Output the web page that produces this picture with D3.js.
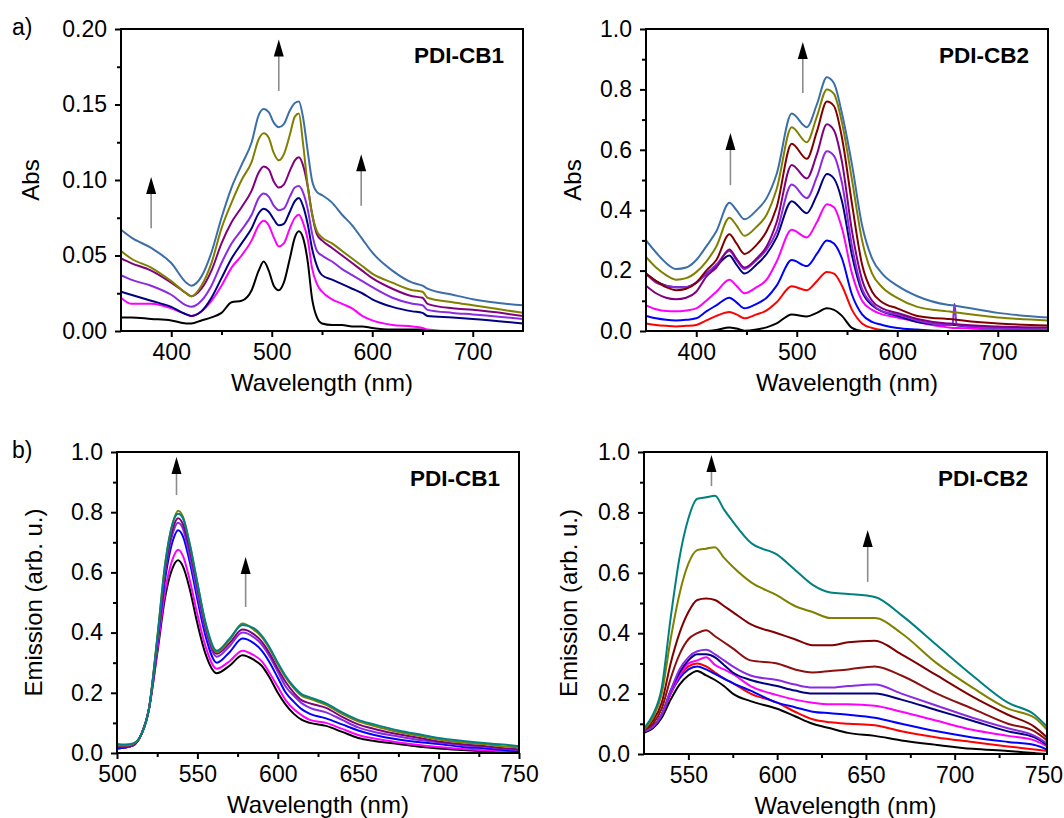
<!DOCTYPE html>
<html><head><meta charset="utf-8">
<script src="https://cdn.jsdelivr.net/npm/d3@7"></script>
<style>html,body{margin:0;padding:0;background:#fff;}svg{display:block;}</style>
</head><body>
<script>
// ---------- DATA ----------
// Panel a) left: absorption PDI-CB1
const absCB1Wavelength = [350,360,380,400,415,420,430,440,450,460,470,480,487,492,497,502,507,512,518,523,527,531,536,540,545,550,560,570,580,590,600,620,640,650,655,680,700,750];
const absCB1Black   = [0.009,0.009,0.008,0.007,0.005,0.005,0.007,0.009,0.012,0.019,0.020,0.027,0.040,0.046,0.040,0.030,0.027,0.032,0.048,0.062,0.066,0.062,0.045,0.022,0.009,0.005,0.004,0.004,0.003,0.003,0.002,0.001,0.001,0.001,0,0,0,0];
const absCB1Magenta = [0.022,0.018,0.018,0.015,0.011,0.010,0.013,0.020,0.030,0.042,0.050,0.060,0.070,0.073,0.070,0.062,0.056,0.058,0.068,0.075,0.077,0.072,0.060,0.042,0.031,0.026,0.021,0.018,0.015,0.010,0.007,0.004,0.003,0.002,0.001,0,0,0];
const absCB1Navy    = [0.026,0.024,0.020,0.016,0.011,0.010,0.013,0.022,0.035,0.048,0.058,0.068,0.078,0.081,0.079,0.074,0.070,0.071,0.079,0.086,0.088,0.083,0.070,0.055,0.043,0.037,0.034,0.031,0.028,0.025,0.021,0.016,0.013,0.012,0.010,0.009,0.008,0.005];
const absCB1Violet  = [0.037,0.034,0.030,0.024,0.017,0.016,0.020,0.030,0.045,0.058,0.067,0.077,0.088,0.091,0.089,0.083,0.080,0.081,0.089,0.095,0.096,0.092,0.080,0.065,0.053,0.050,0.046,0.041,0.037,0.033,0.029,0.022,0.018,0.017,0.014,0.012,0.011,0.008];
const absCB1Purple  = [0.048,0.045,0.040,0.032,0.025,0.023,0.028,0.040,0.058,0.072,0.082,0.093,0.105,0.109,0.107,0.099,0.095,0.097,0.106,0.113,0.115,0.110,0.095,0.078,0.064,0.060,0.055,0.050,0.045,0.040,0.035,0.028,0.023,0.022,0.018,0.015,0.014,0.010];
const absCB1Olive   = [0.053,0.048,0.042,0.033,0.025,0.023,0.030,0.045,0.068,0.085,0.100,0.112,0.127,0.131,0.128,0.118,0.113,0.117,0.130,0.142,0.144,0.125,0.095,0.078,0.066,0.062,0.058,0.053,0.048,0.043,0.038,0.032,0.027,0.026,0.022,0.019,0.017,0.012];
const absCB1Steel   = [0.067,0.062,0.055,0.045,0.032,0.030,0.036,0.052,0.075,0.095,0.110,0.125,0.143,0.147,0.145,0.138,0.135,0.137,0.146,0.151,0.152,0.142,0.118,0.100,0.092,0.090,0.085,0.077,0.070,0.061,0.052,0.040,0.032,0.030,0.028,0.024,0.021,0.017];
const absCB1Arrows = [{wl:380,from:0.068,to:0.102},{wl:507,from:0.159,to:0.193},{wl:589,from:0.083,to:0.117}];

// Panel a) right: absorption PDI-CB2
const absCB2Wavelength = [350,360,370,380,390,400,410,420,433,440,448,460,470,480,495,510,520,530,537,545,555,565,575,585,600,620,650,655,657,659,700,750];
const absCB2Black   = [0,0,0,0,0,0,0,0.003,0.012,0.008,0.001,0.005,0.012,0.025,0.055,0.048,0.06,0.075,0.07,0.05,0.01,0,0,0,0,0,0,0,0,0,0,0];
const absCB2Red     = [0.025,0.02,0.017,0.015,0.017,0.02,0.035,0.05,0.063,0.055,0.042,0.055,0.068,0.095,0.148,0.135,0.165,0.195,0.19,0.15,0.07,0.025,0.01,0.003,0,0,0,0,0,0,0,0];
const absCB2Blue    = [0.05,0.042,0.037,0.035,0.037,0.042,0.065,0.085,0.11,0.095,0.075,0.09,0.11,0.15,0.235,0.215,0.255,0.30,0.29,0.24,0.12,0.055,0.03,0.02,0.01,0.005,0,0,0,0,0,0];
const absCB2Magenta = [0.085,0.072,0.066,0.065,0.068,0.075,0.10,0.13,0.17,0.15,0.125,0.145,0.17,0.23,0.335,0.31,0.36,0.42,0.41,0.34,0.19,0.10,0.07,0.055,0.045,0.03,0.012,0.01,0.01,0.01,0.003,0];
const absCB2Navy    = [0.19,0.165,0.15,0.145,0.145,0.16,0.19,0.215,0.25,0.22,0.19,0.22,0.255,0.31,0.43,0.39,0.45,0.52,0.505,0.43,0.25,0.13,0.085,0.065,0.05,0.03,0.02,0.02,0.02,0.019,0.01,0.005];
const absCB2Violet  = [0.19,0.16,0.15,0.145,0.145,0.16,0.19,0.22,0.265,0.235,0.205,0.235,0.27,0.33,0.485,0.44,0.51,0.595,0.58,0.49,0.28,0.14,0.09,0.065,0.055,0.035,0.02,0.02,0.09,0.02,0.01,0.005];
const absCB2Purple  = [0.15,0.125,0.11,0.105,0.11,0.13,0.18,0.21,0.27,0.24,0.21,0.24,0.28,0.36,0.55,0.505,0.585,0.685,0.665,0.56,0.33,0.17,0.10,0.075,0.06,0.04,0.025,0.024,0.023,0.022,0.015,0.012];
const absCB2Maroon  = [0.19,0.165,0.145,0.135,0.14,0.16,0.20,0.235,0.32,0.29,0.255,0.285,0.33,0.41,0.62,0.57,0.66,0.76,0.745,0.64,0.42,0.22,0.13,0.095,0.075,0.05,0.04,0.039,0.038,0.037,0.025,0.018];
const absCB2Olive   = [0.245,0.21,0.185,0.17,0.175,0.195,0.23,0.28,0.375,0.35,0.315,0.345,0.385,0.47,0.675,0.625,0.71,0.80,0.785,0.69,0.50,0.30,0.19,0.145,0.11,0.08,0.065,0.063,0.062,0.061,0.045,0.035];
const absCB2Steel   = [0.30,0.26,0.225,0.205,0.21,0.235,0.28,0.33,0.425,0.40,0.37,0.40,0.44,0.52,0.72,0.675,0.75,0.84,0.82,0.72,0.55,0.35,0.24,0.19,0.15,0.115,0.087,0.085,0.084,0.083,0.06,0.045];
const absCB2Arrows = [{wl:434,from:0.483,to:0.656},{wl:506,from:0.788,to:0.957}];

// Panel b) left: emission PDI-CB1
const emCB1Wavelength = [500,505,510,515,520,525,530,535,538,541,545,550,555,562,570,578,585,590,595,600,605,610,615,620,630,640,650,660,675,690,700,715,730,740,750];
const emCB1Black   = [0.015,0.018,0.025,0.06,0.15,0.33,0.52,0.62,0.64,0.62,0.55,0.43,0.33,0.265,0.29,0.325,0.31,0.29,0.25,0.20,0.16,0.13,0.11,0.10,0.09,0.07,0.05,0.04,0.03,0.02,0.015,0.01,0.006,0.003,0.0];
const emCB1Magenta = [0.015,0.018,0.025,0.06,0.15,0.34,0.54,0.65,0.675,0.655,0.58,0.46,0.355,0.28,0.305,0.34,0.325,0.305,0.265,0.22,0.175,0.145,0.125,0.11,0.10,0.08,0.06,0.048,0.035,0.025,0.02,0.013,0.009,0.005,0.003];
const emCB1Blue    = [0.015,0.018,0.025,0.06,0.15,0.36,0.58,0.71,0.74,0.72,0.64,0.51,0.39,0.30,0.335,0.38,0.365,0.34,0.30,0.25,0.20,0.17,0.145,0.13,0.115,0.095,0.075,0.06,0.045,0.035,0.03,0.02,0.015,0.01,0.005];
const emCB1Violet  = [0.02,0.02,0.027,0.06,0.15,0.37,0.60,0.735,0.765,0.745,0.66,0.53,0.41,0.32,0.355,0.40,0.385,0.36,0.32,0.27,0.22,0.19,0.165,0.15,0.135,0.11,0.085,0.07,0.055,0.042,0.035,0.026,0.02,0.014,0.01];
const emCB1Purple  = [0.02,0.02,0.027,0.06,0.15,0.37,0.61,0.75,0.78,0.76,0.68,0.55,0.42,0.33,0.365,0.41,0.395,0.37,0.33,0.28,0.235,0.20,0.175,0.165,0.15,0.12,0.095,0.08,0.062,0.048,0.038,0.029,0.022,0.016,0.012];
const emCB1Olive   = [0.025,0.025,0.03,0.06,0.15,0.38,0.63,0.77,0.805,0.785,0.70,0.565,0.43,0.335,0.375,0.43,0.41,0.385,0.345,0.295,0.25,0.215,0.19,0.18,0.16,0.13,0.105,0.09,0.07,0.055,0.045,0.035,0.028,0.022,0.018];
const emCB1Teal    = [0.03,0.028,0.032,0.06,0.15,0.38,0.63,0.77,0.795,0.78,0.70,0.565,0.435,0.34,0.38,0.425,0.415,0.39,0.35,0.30,0.255,0.22,0.195,0.185,0.165,0.135,0.11,0.095,0.075,0.06,0.05,0.04,0.032,0.028,0.022];
const emCB1Arrows = [{wl:537,from:0.857,to:0.983},{wl:580,from:0.485,to:0.651}];

// Panel b) right: emission PDI-CB2
const emCB2Wavelength = [525,530,535,540,545,550,555,560,565,570,575,585,600,610,620,630,640,655,670,690,710,730,745,752];
const emCB2Black   = [0.07,0.085,0.12,0.18,0.23,0.26,0.275,0.26,0.245,0.225,0.20,0.175,0.15,0.125,0.10,0.085,0.07,0.06,0.045,0.03,0.017,0.01,0.003,0];
const emCB2Red     = [0.075,0.09,0.13,0.20,0.26,0.29,0.30,0.29,0.27,0.25,0.235,0.20,0.17,0.14,0.115,0.105,0.10,0.095,0.075,0.055,0.04,0.025,0.015,0.01];
const emCB2Blue    = [0.075,0.09,0.13,0.20,0.25,0.28,0.29,0.28,0.265,0.25,0.235,0.21,0.17,0.155,0.14,0.135,0.13,0.12,0.10,0.075,0.055,0.04,0.03,0.015];
const emCB2Magenta = [0.075,0.09,0.13,0.20,0.26,0.30,0.31,0.32,0.295,0.28,0.265,0.225,0.195,0.18,0.17,0.165,0.165,0.16,0.14,0.11,0.08,0.06,0.045,0.025];
const emCB2Navy    = [0.075,0.09,0.13,0.21,0.27,0.31,0.33,0.33,0.32,0.295,0.27,0.245,0.225,0.21,0.20,0.20,0.20,0.20,0.18,0.145,0.11,0.075,0.055,0.03];
const emCB2Violet  = [0.075,0.09,0.13,0.21,0.28,0.32,0.34,0.345,0.33,0.31,0.29,0.26,0.245,0.23,0.22,0.22,0.225,0.23,0.20,0.16,0.12,0.085,0.06,0.035];
const emCB2Maroon1 = [0.08,0.10,0.15,0.25,0.33,0.38,0.40,0.41,0.39,0.37,0.35,0.31,0.30,0.28,0.27,0.275,0.28,0.29,0.26,0.20,0.15,0.10,0.075,0.045];
const emCB2Maroon2 = [0.08,0.11,0.17,0.30,0.40,0.47,0.51,0.515,0.51,0.49,0.47,0.43,0.40,0.38,0.36,0.36,0.37,0.375,0.33,0.26,0.19,0.13,0.09,0.055];
const emCB2Olive   = [0.08,0.12,0.20,0.38,0.53,0.63,0.675,0.68,0.685,0.65,0.62,0.57,0.525,0.49,0.47,0.45,0.45,0.45,0.40,0.30,0.22,0.15,0.12,0.08];
const emCB2Teal    = [0.085,0.13,0.22,0.45,0.65,0.78,0.845,0.85,0.855,0.81,0.77,0.70,0.66,0.61,0.56,0.535,0.53,0.52,0.46,0.36,0.26,0.17,0.13,0.09];
const emCB2Arrows = [{wl:563,from:0.887,to:0.99},{wl:651,from:0.57,to:0.742}];

// Tick values
const absCB1XTicks = [400,500,600,700], absXMinor = [450,550,650];
const absCB1YTicks = [0,0.05,0.10,0.15,0.20], absCB1YMinor = [0.025,0.075,0.125,0.175];
const absCB2XTicks = [400,500,600,700];
const unitYTicks = [0,0.2,0.4,0.6,0.8,1.0], unitYMinor = [0.1,0.3,0.5,0.7,0.9];
const emCB1XTicks = [500,550,600,650,700,750], emCB1XMinor = [525,575,625,675,725];
const emCB2XTicks = [550,600,650,700,750], emCB2XMinor = [575,625,675,725];

// ---------- DRAW ----------
const FONT = "'Liberation Sans', Arial, Helvetica, sans-serif";
const svg = d3.select("body").append("svg").attr("width",1064).attr("height",818)
  .style("font-family",FONT);

const C = {black:"#000000", red:"#ff0000", blue:"#0000ff", magenta:"#ff00ff", navy:"#000080",
  violet:"#8a2be2", purple:"#800080", maroon:"#800000", maroon2:"#8b1010", olive:"#808000",
  steel:"#3c6ea8", teal:"#008080"};

let clipId = 0;
function panel(o){
  const x = d3.scaleLinear().domain(o.xDomain).range([o.left,o.right]);
  const y = d3.scaleLinear().domain(o.yDomain).range([o.bottom,o.top]);
  const g = svg.append("g");
  const id = "clip"+(clipId++);
  g.append("clipPath").attr("id",id).append("rect")
    .attr("x",o.left).attr("y",o.top).attr("width",o.right-o.left).attr("height",o.bottom-o.top);

  const line = d3.line().x((d,i)=>x(o.wl[i])).y(d=>y(d)).curve(d3.curveMonotoneX);
  const lines = g.append("g").attr("clip-path","url(#"+id+")");
  o.series.forEach(s=>{
    lines.append("path").attr("d",line(s.values)).attr("fill","none")
      .attr("stroke",s.color).attr("stroke-width",2).attr("stroke-linejoin","round");
  });

  // axes
  const ax = g.append("g").attr("transform","translate(0,"+o.bottom+")")
    .call(d3.axisBottom(x).tickValues(o.xTicks).tickSize(6).tickPadding(7).tickSizeOuter(0));
  const axm = g.append("g").attr("transform","translate(0,"+o.bottom+")")
    .call(d3.axisBottom(x).tickValues(o.xMinor).tickSize(4).tickFormat("").tickSizeOuter(0));
  const ay = g.append("g").attr("transform","translate("+o.left+",0)")
    .call(d3.axisLeft(y).tickValues(o.yTicks).tickFormat(d3.format(o.yFormat)).tickSize(6).tickPadding(8).tickSizeOuter(0));
  const aym = g.append("g").attr("transform","translate("+o.left+",0)")
    .call(d3.axisLeft(y).tickValues(o.yMinor).tickSize(4).tickFormat("").tickSizeOuter(0));
  [ax,axm,ay,aym].forEach(a=>{
    a.select(".domain").remove();
    a.selectAll("line").attr("stroke","#000").attr("stroke-width",2);
    a.selectAll("text").attr("font-size",23).attr("font-family",FONT).attr("fill","#000");
  });

  g.append("rect").attr("x",o.left).attr("y",o.top).attr("width",o.right-o.left).attr("height",o.bottom-o.top)
    .attr("fill","none").attr("stroke","#000").attr("stroke-width",2);

  // titles
  g.append("text").attr("x",(o.left+o.right)/2).attr("y",o.bottom+60).attr("text-anchor","middle")
    .attr("font-size",24).text("Wavelength (nm)");
  g.append("text").attr("transform","translate("+o.ytitleX+","+((o.top+o.bottom)/2)+") rotate(-90)")
    .attr("text-anchor","middle").attr("font-size",24).text(o.ytitle);
  g.append("text").attr("x",o.right-19).attr("y",o.top+34).attr("text-anchor","end")
    .attr("font-size",22.5).attr("font-weight","bold").text(o.label);
  if(o.letter){
    g.append("text").attr("x",12).attr("y",o.top+6).attr("font-size",23).text(o.letter);
  }

  // arrows
  o.arrows.forEach(a=>{
    const px = x(a.wl), pb = y(a.from), pt = y(a.to);
    g.append("line").attr("x1",px).attr("x2",px).attr("y1",pb).attr("y2",pt+12)
      .attr("stroke","#8c8c8c").attr("stroke-width",1.6);
    g.append("path").attr("d",`M${px},${pt}L${px-5},${pt+17}L${px+5},${pt+17}Z`).attr("fill","#000");
  });
}

panel({left:121,right:523,top:29,bottom:331,xDomain:[350,750],yDomain:[0,0.2],
  xTicks:absCB1XTicks,xMinor:absXMinor,yTicks:absCB1YTicks,yMinor:absCB1YMinor,yFormat:".2f",
  wl:absCB1Wavelength,label:"PDI-CB1",ytitle:"Abs",ytitleX:39,letter:"a)",arrows:absCB1Arrows,
  series:[
    {values:absCB1Black,color:C.black},{values:absCB1Magenta,color:C.magenta},{values:absCB1Navy,color:C.navy},
    {values:absCB1Violet,color:C.violet},{values:absCB1Purple,color:C.purple},{values:absCB1Olive,color:C.olive},
    {values:absCB1Steel,color:C.steel}]});

panel({left:646,right:1048,top:29,bottom:331,xDomain:[350,750],yDomain:[0,1],
  xTicks:absCB2XTicks,xMinor:absXMinor,yTicks:unitYTicks,yMinor:unitYMinor,yFormat:".1f",
  wl:absCB2Wavelength,label:"PDI-CB2",ytitle:"Abs",ytitleX:581,letter:null,arrows:absCB2Arrows,
  series:[
    {values:absCB2Black,color:C.black},{values:absCB2Red,color:C.red},{values:absCB2Blue,color:C.blue},
    {values:absCB2Magenta,color:C.magenta},{values:absCB2Navy,color:C.navy},{values:absCB2Violet,color:C.violet},
    {values:absCB2Purple,color:C.purple},{values:absCB2Maroon,color:C.maroon},{values:absCB2Olive,color:C.olive},
    {values:absCB2Steel,color:C.steel}]});

panel({left:117,right:519,top:452,bottom:753,xDomain:[500,750],yDomain:[0,1],
  xTicks:emCB1XTicks,xMinor:emCB1XMinor,yTicks:unitYTicks,yMinor:unitYMinor,yFormat:".1f",
  wl:emCB1Wavelength,label:"PDI-CB1",ytitle:"Emission (arb. u.)",ytitleX:42,letter:"b)",arrows:emCB1Arrows,
  series:[
    {values:emCB1Black,color:C.black},{values:emCB1Magenta,color:C.magenta},{values:emCB1Blue,color:C.blue},
    {values:emCB1Violet,color:C.violet},{values:emCB1Purple,color:C.purple},{values:emCB1Olive,color:C.olive},
    {values:emCB1Teal,color:C.teal}]});

panel({left:644,right:1047,top:452,bottom:754,xDomain:[525,752],yDomain:[0,1],
  xTicks:emCB2XTicks,xMinor:emCB2XMinor,yTicks:unitYTicks,yMinor:unitYMinor,yFormat:".1f",
  wl:emCB2Wavelength,label:"PDI-CB2",ytitle:"Emission (arb. u.)",ytitleX:577,letter:null,arrows:emCB2Arrows,
  series:[
    {values:emCB2Black,color:C.black},{values:emCB2Red,color:C.red},{values:emCB2Blue,color:C.blue},
    {values:emCB2Magenta,color:C.magenta},{values:emCB2Navy,color:C.navy},{values:emCB2Violet,color:C.violet},
    {values:emCB2Maroon1,color:C.maroon2},{values:emCB2Maroon2,color:C.maroon},{values:emCB2Olive,color:C.olive},
    {values:emCB2Teal,color:C.teal}]});
</script>
</body></html>
